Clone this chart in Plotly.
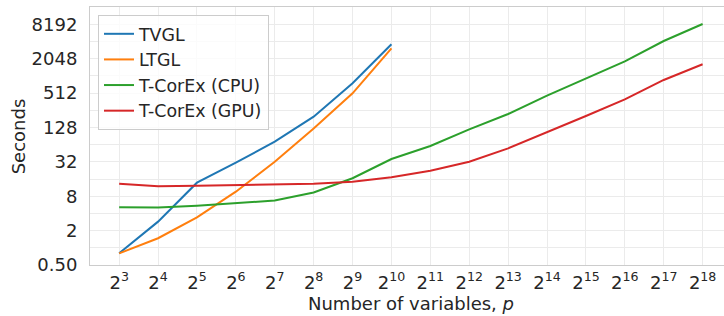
import math
import plotly.graph_objects as go

x_exp_tvgl = [3, 4, 5, 6, 7, 8, 9, 10]
tvgl = [0.8, 2.87, 13.8, 30.9, 72, 197, 757, 3650]
ltgl = [0.8, 1.47, 3.42, 9.6, 32, 123, 505, 3100]

x_exp_corex = list(range(3, 19))
corex_cpu = [5.1, 5.05, 5.46, 6.0, 6.7, 9.3, 16.5, 35.8, 60.5, 118, 220, 459, 924, 1835, 4160, 8250]
corex_gpu = [13.2, 11.9, 12.2, 12.6, 12.7, 13.2, 14.3, 17.1, 22.4, 32, 55, 105, 203, 397, 866, 1630]

series_names = ["TVGL", "LTGL", "T-CorEx (CPU)", "T-CorEx (GPU)"]
colors = ["#1f77b4", "#ff7f0e", "#2ca02c", "#d62728"]

y_tick_vals = [0.5, 2, 8, 32, 128, 512, 2048, 8192]
y_tick_text = ["0.50", "2", "8", "32", "128", "512", "2048", "8192"]
y_minor_vals = [1, 4, 16, 64, 256, 1024, 4096, 16384]

x_tick_exps = list(range(3, 19))

fig = go.Figure()
data = [
    (x_exp_tvgl, tvgl),
    (x_exp_tvgl, ltgl),
    (x_exp_corex, corex_cpu),
    (x_exp_corex, corex_gpu),
]
for (xe, ys), name, c in zip(data, series_names, colors):
    fig.add_trace(go.Scatter(
        x=[2 ** e for e in xe], y=ys, mode="lines", name=name,
        line=dict(color=c, width=2),
    ))

font_family = "DejaVu Sans"
text_color = "#262626"

fig.update_layout(
    width=724, height=316,
    margin=dict(l=90, r=0, t=7, b=51, autoexpand=False),
    paper_bgcolor="white", plot_bgcolor="white",
    font=dict(family=font_family, color=text_color, size=18),
    showlegend=True,
    legend=dict(
        x=0.0126, y=0.969, xanchor="left", yanchor="top",
        bgcolor="rgba(255,255,255,0.8)", bordercolor="#cccccc", borderwidth=1,
        font=dict(size=17.4, family=font_family, color=text_color),
        tracegroupgap=0, itemwidth=30,
    ),
    annotations=[
        dict(text="Number of variables, <i>p</i>", xref="paper", yref="paper",
             x=0.506, y=-0.15, xanchor="center", yanchor="middle",
             showarrow=False, font=dict(size=18, family=font_family, color=text_color)),
        dict(text="Seconds", xref="paper", yref="paper",
             x=-0.113, y=0.5, xanchor="center", yanchor="middle", textangle=-90,
             showarrow=False, font=dict(size=18, family=font_family, color=text_color)),
    ],
)

fig.update_xaxes(
    type="log", automargin=False,
    range=[math.log10(2 ** 2.25), math.log10(2 ** 18.55)],
    tickvals=[2 ** e for e in x_tick_exps],
    ticktext=[f"2<sup>{e}</sup>" for e in x_tick_exps],
    tickfont=dict(size=18),
    ticks="", ticklabelstandoff=1,
    showgrid=True, gridcolor="#ebebeb", gridwidth=1,
    showline=True, linecolor="#cccccc", linewidth=1, mirror=True,
    zeroline=False,
)
fig.update_yaxes(
    type="log", automargin=False,
    range=[math.log10(0.5), math.log10(16384)],
    tickvals=y_tick_vals, ticktext=y_tick_text,
    tickfont=dict(size=18),
    ticks="", ticklabelstandoff=8,
    showgrid=True, gridcolor="#ebebeb", gridwidth=1,
    minor=dict(tickvals=y_minor_vals, showgrid=True, gridcolor="#ebebeb", ticks=""),
    showline=True, linecolor="#cccccc", linewidth=1, mirror=False,
    zeroline=False,
)

fig.write_html(
    "out.html",
    config={"displayModeBar": False},
    post_script="document.body.style.margin='0';document.body.style.overflow='hidden';",
)
